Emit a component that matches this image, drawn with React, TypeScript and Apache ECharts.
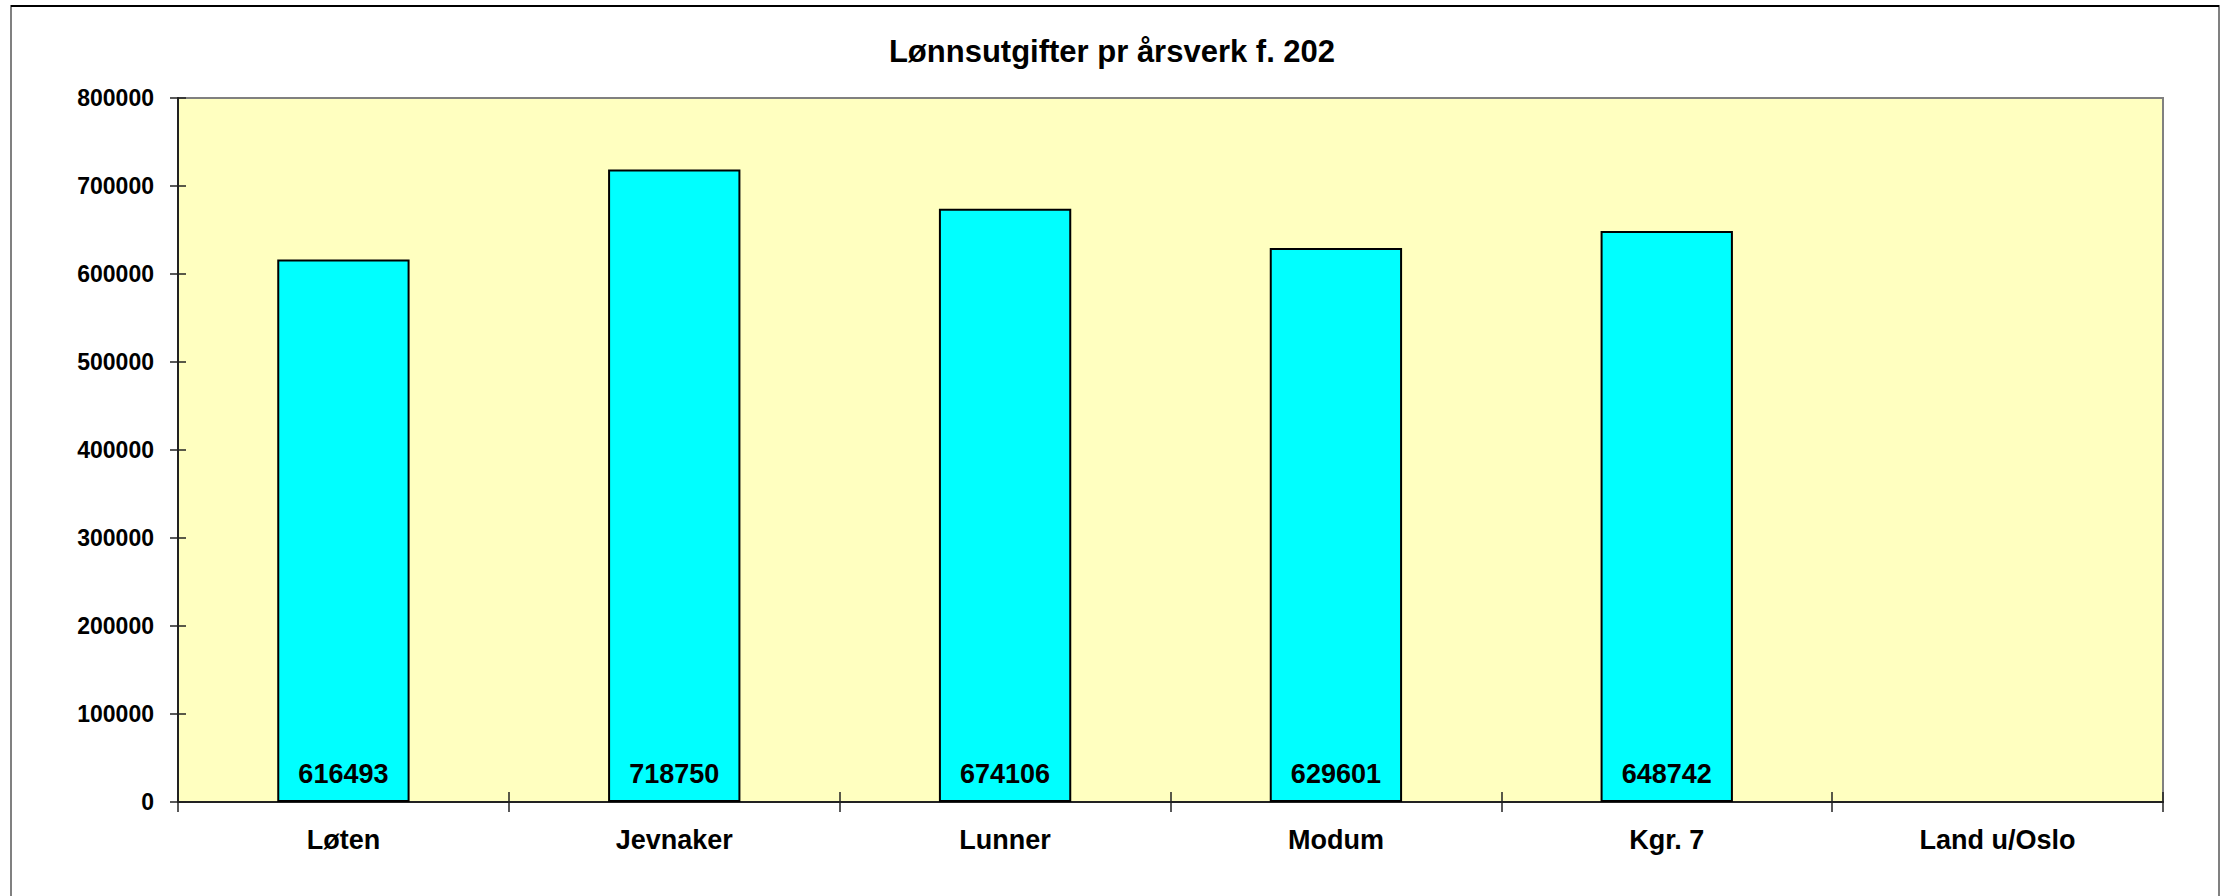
import React, { useEffect, useRef } from "react";
import * as echarts from "echarts";

const categories = ["Løten", "Jevnaker", "Lunner", "Modum", "Kgr. 7", "Land u/Oslo"];
const values: (number | null)[] = [616493, 718750, 674106, 629601, 648742, null];
const titleText = "Lønnsutgifter pr årsverk f. 202";
const yMin = 0;
const yMax = 800000;
const yStep = 100000;

const FONT = "'Liberation Sans Narrow', 'Arial Narrow', 'Liberation Sans', Arial, sans-serif";

export default function App() {
  const ref = useRef<HTMLDivElement>(null);
  useEffect(() => {
    if (!ref.current) return;
    const chart = echarts.init(ref.current, null, { renderer: "svg" });
    chart.setOption({
      animation: false,
      backgroundColor: "#ffffff",
      title: {
        text: titleText,
        left: "center",
        top: 31,
        textStyle: { fontFamily: FONT, fontWeight: "bold", fontSize: 31, color: "#000" },
      },
      graphic: [
        {
          type: "rect",
          shape: { x: 11, y: 6, width: 2208, height: 900 },
          style: { fill: "none", stroke: "#808080", lineWidth: 2 },
          silent: true,
        },
        {
          type: "line",
          shape: { x1: 11, y1: 6, x2: 2219, y2: 6 },
          style: { stroke: "#000", lineWidth: 2 },
          silent: true,
        },
      ],
      grid: {
        left: 178,
        top: 98,
        right: 61,
        bottom: 94,
        show: true,
        backgroundColor: "#FFFFC0",
        borderColor: "#808080",
        borderWidth: 2,
      },
      xAxis: [
        {
          type: "category",
          data: categories,
          axisLine: { show: true, lineStyle: { color: "#222", width: 2 } },
          axisTick: { show: true, length: 10, lineStyle: { color: "#222", width: 1.5 } },
          axisLabel: {
            margin: 24,
            fontFamily: FONT,
            fontWeight: "bold",
            fontSize: 27,
            color: "#000",
          },
          splitLine: { show: false },
        },
        {
          type: "category",
          data: categories,
          position: "bottom",
          axisLine: { show: false },
          axisTick: { show: true, inside: true, length: 10, lineStyle: { color: "#222", width: 1.5 } },
          axisLabel: { show: false },
          splitLine: { show: false },
        },
      ],
      yAxis: [
        {
          type: "value",
          min: yMin,
          max: yMax,
          interval: yStep,
          axisLine: { show: true, lineStyle: { color: "#222", width: 2 } },
          axisTick: { show: true, length: 8, lineStyle: { color: "#222", width: 1.5 } },
          axisLabel: {
            margin: 24,
            fontFamily: FONT,
            fontWeight: "bold",
            fontSize: 23,
            color: "#000",
            formatter: (v: number) => String(v),
          },
          splitLine: { show: false },
        },
        {
          type: "value",
          min: yMin,
          max: yMax,
          interval: yStep,
          position: "left",
          axisLine: { show: false },
          axisTick: { show: true, inside: true, length: 8, lineStyle: { color: "#222", width: 1.5 } },
          axisLabel: { show: false },
          splitLine: { show: false },
        },
      ],
      series: [
        {
          type: "bar",
          data: values,
          xAxisIndex: 0,
          yAxisIndex: 0,
          barWidth: "40%",
          itemStyle: { color: "#00FFFF", borderColor: "#000", borderWidth: 2 },
          label: {
            show: true,
            position: "insideBottom",
            distance: 15,
            formatter: (p: any) => String(p.value),
            fontFamily: FONT,
            fontWeight: "bold",
            fontSize: 27,
            color: "#000",
          },
        },
      ],
    });
    return () => chart.dispose();
  }, []);
  return (
    <div
      ref={ref}
      style={{ position: "fixed", left: 0, top: 0, width: 2224, height: 896 }}
    />
  );
}
